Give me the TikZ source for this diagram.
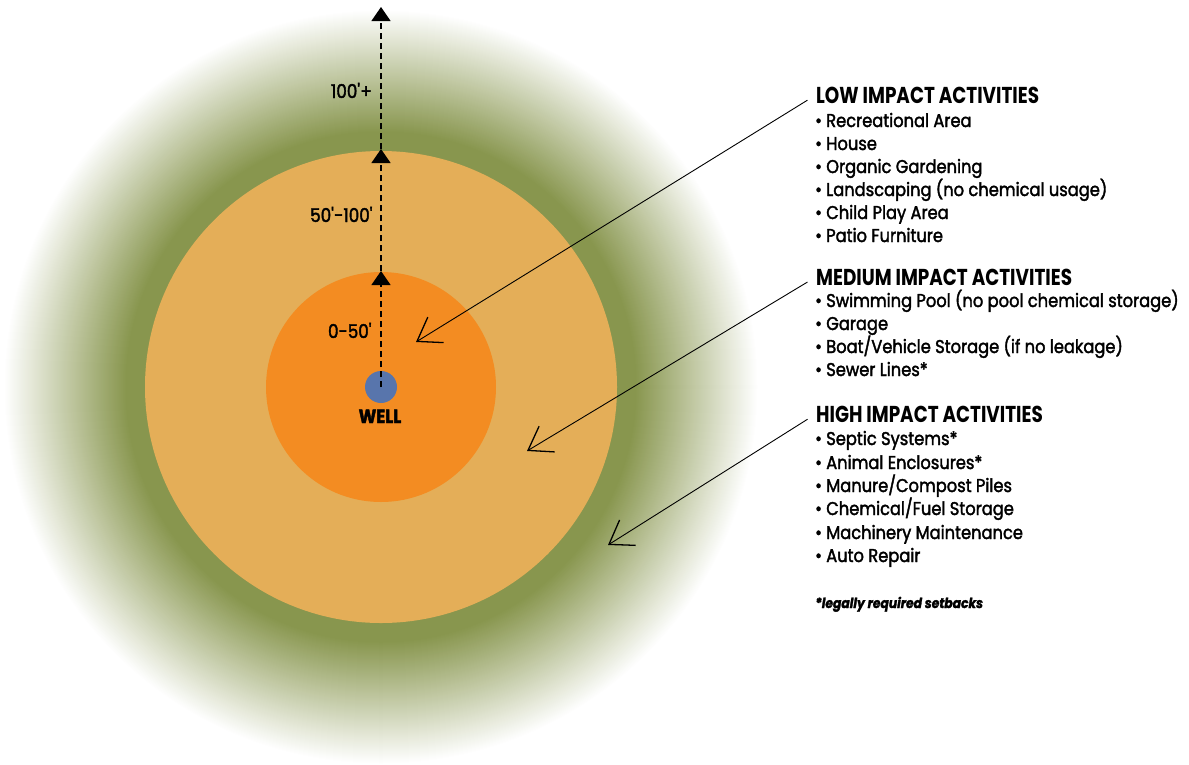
\documentclass[tikz,border=0pt]{standalone}
\usepackage{fontspec}
\setmainfont{Poppins}
\newfontfamily\itemfont[FakeStretch=0.88,FakeBold=2]{Poppins}
\newfontfamily\headfont[FakeStretch=0.8]{Poppins}
\usetikzlibrary{arrows.meta}
\definecolor{zonegreen}{RGB}{136,150,78}
\definecolor{zonelight}{RGB}{228,174,88}
\definecolor{zoneorange}{RGB}{243,140,34}
\definecolor{wellblue}{RGB}{88,117,172}
\begin{document}
\begin{tikzpicture}[x=1pt,y=-1pt,
  itemtext/.style={anchor=base west, inner sep=0pt, font=\itemfont\fontsize{18.5}{20}\selectfont},
  headtext/.style={anchor=base west, inner sep=0pt, font=\headfont\bfseries\fontsize{23}{25}\selectfont},
  disttext/.style={anchor=base east, inner sep=0pt, font=\itemfont\fontsize{19}{21}\selectfont},
  notetext/.style={anchor=base west, inner sep=0pt, font=\itemfont\bfseries\itshape\fontsize{14}{16}\selectfont},
  leader/.style={line width=0.9pt, shorten <=10pt, -{Straight Barb[length=22pt,width=30pt,line width=1.3pt]}},
  distline/.style={line width=1.3pt, dash pattern=on 6pt off 4pt, -{Triangle[width=19pt,length=14pt]}}]
\useasboundingbox (0,0) rectangle (1189,764);
% green fading ring
\foreach \i in {0,...,143}{
  \pgfmathsetmacro{\rr}{377-\i}
  \pgfmathsetmacro{\pp}{min(100,0.82*\i)}
  \fill[zonegreen!\pp!white] (381,387) circle[radius=\rr];
}
\fill[zonelight] (381,387) circle[radius=236];
\fill[zoneorange] (381,387) circle[radius=115];
% well
\node[circle, fill=wellblue, minimum size=32pt, inner sep=0pt] (well) at (381,387) {};
\node[anchor=base, inner sep=0pt, font=\itemfont\bfseries\fontsize{19}{21}\selectfont] (welllabel) at (380,423) {WELL};
% distance markers
\coordinate (t1) at (381,271);
\coordinate (t2) at (381,149);
\coordinate (t3) at (381,7);
\draw[distline] (well.center) -- (t1);
\draw[distline] (t1) -- (t2);
\draw[distline] (t2) -- (t3);
\node[disttext] (d1) at (372,338) {0-50\textquotesingle};
\node[disttext] (d2) at (373,222) {50\textquotesingle-100\textquotesingle};
\node[disttext] (d3) at (372,98) {100\textquotesingle+};
% low
\node[headtext] (low) at (816,103) {LOW IMPACT ACTIVITIES};
\node[itemtext] (low1) at (815,127) {• Recreational Area};
\node[itemtext] (low2) at (815,150) {• House};
\node[itemtext] (low3) at (815,173) {• Organic Gardening};
\node[itemtext] (low4) at (815,196) {• Landscaping (no chemical usage)};
\node[itemtext] (low5) at (815,219) {• Child Play Area};
\node[itemtext] (low6) at (815,242) {• Patio Furniture};
% medium
\node[headtext] (med) at (816,285) {MEDIUM IMPACT ACTIVITIES};
\node[itemtext] (med1) at (815,307) {• Swimming Pool (no pool chemical storage)};
\node[itemtext] (med2) at (815,330) {• Garage};
\node[itemtext] (med3) at (815,353) {• Boat/Vehicle Storage (if no leakage)};
\node[itemtext] (med4) at (815,376) {• Sewer Lines*};
% high
\node[headtext] (high) at (816,422) {HIGH IMPACT ACTIVITIES};
\node[itemtext] (high1) at (815,445) {• Septic Systems*};
\node[itemtext] (high2) at (815,469) {• Animal Enclosures*};
\node[itemtext] (high3) at (815,492) {• Manure/Compost Piles};
\node[itemtext] (high4) at (815,515) {• Chemical/Fuel Storage};
\node[itemtext] (high5) at (815,539) {• Machinery Maintenance};
\node[itemtext] (high6) at (815,562) {• Auto Repair};
\node[notetext] (note) at (815,608) {*legally required setbacks};
% leaders
\coordinate (tipLow) at (416,342);
\coordinate (tipMed) at (527,451);
\coordinate (tipHigh) at (608,545);
\draw[leader] (low.west) -- (tipLow);
\draw[leader] (med.west) -- (tipMed);
\draw[leader] (high.west) -- (tipHigh);
\end{tikzpicture}
\end{document}
